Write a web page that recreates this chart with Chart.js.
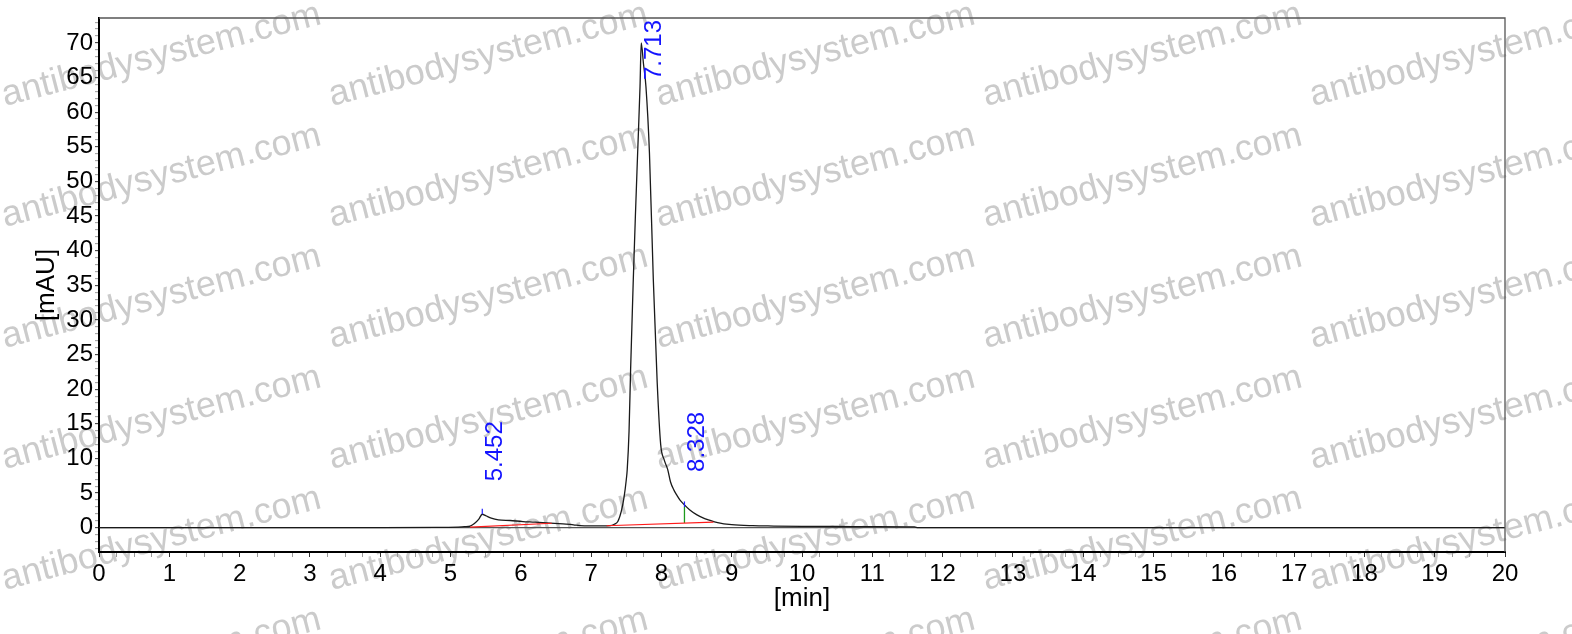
<!DOCTYPE html>
<html>
<head>
<meta charset="utf-8">
<script src="https://cdn.jsdelivr.net/npm/chart.js@4.4.0/dist/chart.umd.min.js"></script>
<style>
  html, body { margin: 0; padding: 0; background: #fff; }
  #wrap { width: 1572px; height: 634px; position: relative; }
</style>
</head>
<body>
<div id="wrap"><canvas id="chart"></canvas></div>
<script>
// chromatogram signal
var times  = [0, 2, 4, 4.8, 5.1, 5.2, 5.28, 5.34, 5.4, 5.452, 5.5, 5.58, 5.68, 5.85, 6.03, 6.2, 6.42, 6.6, 6.75, 6.84,
              7.0, 7.15, 7.27, 7.33, 7.38, 7.43, 7.47, 7.5, 7.514, 7.54, 7.562, 7.58, 7.6, 7.63, 7.662, 7.696, 7.713,
              7.745, 7.78, 7.83, 7.885, 7.94, 7.99, 8.04, 8.09, 8.13, 8.18, 8.22, 8.265, 8.328, 8.4, 8.5, 8.6, 8.67,
              8.8, 9.0, 9.3, 9.6, 10.0, 10.5, 11.0, 11.6, 11.65, 14, 17, 20];
var signal = [0.02, 0.02, 0.03, 0.05, 0.1, 0.15, 0.25, 0.6, 1.2, 1.95, 1.75, 1.4, 1.15, 1.05, 0.9, 0.82, 0.68, 0.55, 0.43, 0.3,
              0.27, 0.27, 0.3, 0.5, 0.9, 2.4, 4.5, 6.9, 8.4, 14, 22.8, 29, 35.8, 45, 54.1, 63.7, 70.0,
              67, 63.7, 54.1, 35.8, 21, 12, 9.8, 8.4, 6.6, 5.4, 4.7, 4.0, 3.3, 2.6, 1.9, 1.4, 1.15,
              0.75, 0.45, 0.3, 0.25, 0.2, 0.18, 0.15, 0.12, 0.02, 0.02, 0.02, 0.02];

// integration baselines and drop line
var base1T = [5.28, 6.44], base1Y = [0.1, 0.65];
var base2T = [7.22, 8.74], base2Y = [0.29, 0.82];
var dropT = [8.328, 8.328], dropY = [0.69, 3.0];

// peak labels
var peakTimes = [5.452, 7.713, 8.328];
var peakLabels = ['5.452', '7.713', '8.328'];
var peakHeights = [1.95, 70.0, 3.3];
var markT = [5.452, 8.328];
var markY = [1.95, 3.0];

var xMin = 0, xMax = 20, xStep = 0.25;
var yMin = -3.5, yMax = 73.6, yStep = 1;

var watermark = 'antibodysystem.com';

function pts(xs, ys) {
    return xs.map(function(x, i){ return {x: x, y: ys[i]}; });
}

var datasets = [
    { data: pts(base1T, base1Y), borderColor: '#ff1a1a', borderWidth: 1.2 },
    { data: pts(base2T, base2Y), borderColor: '#ff1a1a', borderWidth: 1.2 },
    { data: pts(dropT, dropY), borderColor: '#1c9a1c', borderWidth: 1.3 }
];
markT.forEach(function(t, i){
    datasets.push({ data: pts([t, t], [markY[i], markY[i] + 0.8]), borderColor: '#2020ff', borderWidth: 1.2 });
});
// signal last so it sits on top
datasets.push({ data: pts(times, signal), borderColor: '#1a1a1a', borderWidth: 1.3, cubicInterpolationMode: 'monotone' });

var bgPlugin = {
    id: 'bg',
    beforeDraw: function(chart){
        var ctx = chart.ctx;
        ctx.save();
        ctx.fillStyle = '#fff';
        ctx.fillRect(0, 0, chart.width, chart.height);
        ctx.fillStyle = '#cbcbcb';
        ctx.font = '36px "Liberation Sans", Arial, sans-serif';
        ctx.textAlign = 'left';
        ctx.textBaseline = 'alphabetic';
        for (var c = 0; c < 5; c++) {
            for (var r = 0; r < 6; r++) {
                ctx.save();
                ctx.translate(5 + 327 * c, 106 + 121 * r);
                ctx.rotate(-14.5 * Math.PI / 180);
                ctx.fillText(watermark, 0, 0);
                ctx.restore();
            }
        }
        ctx.restore();
    }
};

var framePlugin = {
    id: 'frame',
    afterDraw: function(chart){
        var ctx = chart.ctx, a = chart.chartArea;
        ctx.save();
        ctx.strokeStyle = '#555';
        ctx.lineWidth = 1.3;
        ctx.beginPath();
        ctx.moveTo(a.left, a.top);
        ctx.lineTo(a.right, a.top);
        ctx.lineTo(a.right, a.bottom);
        ctx.stroke();
        ctx.restore();
    }
};

var labelPlugin = {
    id: 'peaklabels',
    afterDatasetsDraw: function(chart){
        var ctx = chart.ctx, xs = chart.scales.x, ys = chart.scales.y, a = chart.chartArea;
        ctx.save();
        ctx.font = '24px "Liberation Sans", Arial, sans-serif';
        ctx.fillStyle = '#1414ff';
        ctx.textAlign = 'left';
        ctx.textBaseline = 'alphabetic';
        peakTimes.forEach(function(t, i){
            var w = ctx.measureText(peakLabels[i]).width;
            var px = xs.getPixelForValue(t) + 19.5;
            var py = ys.getPixelForValue(peakHeights[i]) - 33;
            if (py - w < a.top + 2) py = a.top + 2 + w;
            ctx.save();
            ctx.translate(px, py);
            ctx.rotate(-Math.PI / 2);
            ctx.fillText(peakLabels[i], 0, 0);
            ctx.restore();
        });
        ctx.restore();
    }
};

var tickFont = { family: '"Liberation Sans", Arial, sans-serif', size: 24 };
var titleFont = { family: '"Liberation Sans", Arial, sans-serif', size: 26 };

new Chart(document.getElementById('chart'), {
    type: 'line',
    data: { datasets: datasets },
    plugins: [bgPlugin, labelPlugin, framePlugin],
    options: {
        responsive: true,
        maintainAspectRatio: false,
        animation: false,
        events: [],
        layout: { padding: { left: 0, top: 18, right: 67, bottom: 0 } },
        elements: { point: { radius: 0 }, line: { tension: 0 } },
        plugins: { legend: { display: false }, tooltip: { enabled: false } },
        scales: {
            x: {
                type: 'linear',
                min: xMin, max: xMax,
                afterFit: function(s){ s.height = 82; },
                border: { color: '#000', width: 2 },
                grid: {
                    drawOnChartArea: false,
                    tickLength: 5,
                    tickColor: function(c){ return c.tick && Number.isInteger(c.tick.value) ? '#333' : '#9a9a9a'; }
                },
                ticks: {
                    stepSize: xStep, autoSkip: false, maxRotation: 0, minRotation: 0,
                    padding: 3, color: '#000', font: tickFont,
                    callback: function(v){ return Number.isInteger(v) ? String(v) : ''; }
                },
                title: { display: true, text: '[min]', color: '#000', font: titleFont, padding: { top: 0, bottom: 20 } }
            },
            y: {
                type: 'linear',
                min: yMin, max: yMax,
                afterFit: function(s){ s.width = 99; },
                border: { color: '#000', width: 2 },
                grid: {
                    drawOnChartArea: true,
                    tickLength: 4,
                    color: function(c){ return c.tick && c.tick.value === 0 ? '#555' : 'rgba(0,0,0,0)'; },
                    lineWidth: 1.3,
                    tickColor: function(c){
                        if (!c.tick || !Number.isInteger(c.tick.value)) return 'rgba(0,0,0,0)';
                        return c.tick.value % 5 === 0 ? '#333' : '#9a9a9a';
                    },
                    tickWidth: 1
                },
                ticks: {
                    stepSize: yStep, autoSkip: false, includeBounds: false,
                    padding: 2, color: '#000', font: tickFont,
                    callback: function(v){ return (Number.isInteger(v) && v % 5 === 0 && v >= 0) ? String(v) : ''; }
                },
                title: { display: true, text: '[mAU]', color: '#000', font: titleFont, padding: { top: 31, bottom: 0 } }
            }
        }
    }
});
</script>
</body>
</html>
